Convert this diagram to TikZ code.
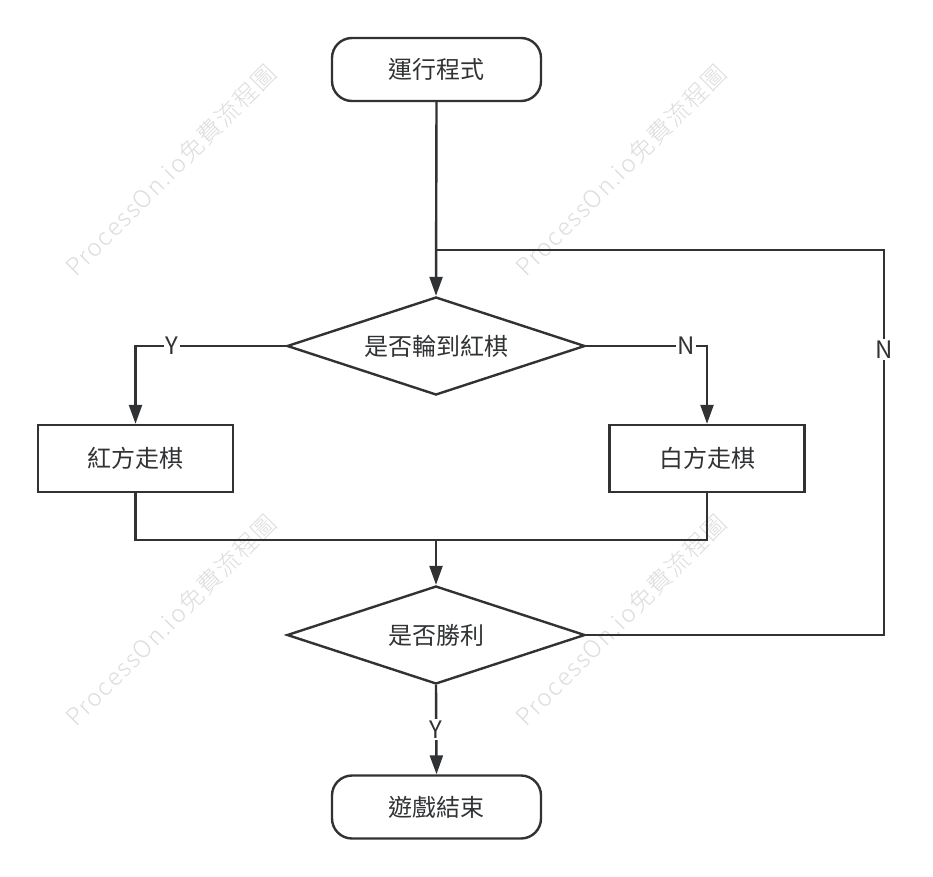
\documentclass[tikz,border=0pt]{standalone}
\usepackage{fontspec}
\setmainfont{Noto Sans CJK TC}
\newfontfamily\wmfont[LetterSpace=6.5]{Noto Sans CJK TC Light}
\usetikzlibrary{shapes.geometric,arrows.meta}
\definecolor{ink}{HTML}{303234}
\definecolor{wm}{HTML}{DDDDDD}
\begin{document}
\begin{tikzpicture}[x=1pt,y=-1pt,
  every node/.style={font=\fontsize{24}{27}\selectfont, text=ink},
  term/.style={draw=ink, line width=2.4pt, rounded corners=20pt, minimum width=209pt, minimum height=63pt, inner sep=0pt},
  proc/.style={draw=ink, line width=2.4pt, minimum width=195pt, minimum height=67pt, inner sep=0pt},
  dec/.style={draw=ink, line width=2.4pt, diamond, shape aspect=3.04, minimum width=298pt, minimum height=98pt, inner sep=0pt},
  conn/.style={draw=ink, line width=2.4pt},
  arr/.style={conn, -{Triangle[length=19pt,width=13pt]}},
  lbl/.style={fill=white, inner sep=1.5pt},
  wmark/.style={text=wm, rotate=45, font=\wmfont\fontsize{24}{27}\selectfont, inner sep=0pt}
]
\useasboundingbox (0,0) rectangle (933,876);
\fill[white] (0,0) rectangle (933,876);
% watermarks
\node[wmark] (w1) at (171,170) {ProcessOn.io免費流程圖};
\node[wmark] (w2) at (621,170) {ProcessOn.io免費流程圖};
\node[wmark] (w3) at (171,620) {ProcessOn.io免費流程圖};
\node[wmark] (w4) at (621,620) {ProcessOn.io免費流程圖};
% nodes
\node[term] (start) at (436.5,69.5) {運行程式};
\node[dec] (d1) at (436,346) {是否輪到紅棋};
\node[proc] (red) at (135.5,458.5) {紅方走棋};
\node[proc] (white) at (707,458.5) {白方走棋};
\node[dec] (d2) at (436,635) {是否勝利};
\node[term] (end) at (436.5,807) {遊戲結束};
\coordinate (m) at (436,540);
\coordinate (lc) at (884,250);
\coordinate (lj) at (436,250);
% connectors
\draw[arr] (start.south) -- (d1.north);
\draw[arr] (d1.west) -| node[lbl, pos=0.378] (ly1) {Y} (red.north);
\draw[arr] (d1.east) -| node[lbl, pos=0.414] (ln1) {N} (white.north);
\draw[conn] (red.south) |- (m);
\draw[conn] (white.south) |- (m);
\draw[arr] (m) -- (d2.north);
\draw[arr] (d2.south) -- node[lbl, pos=0.5] (ly2) {Y} (end.north);
\draw[conn] (d2.east) -| node[lbl, pos=0.871] (ln2) {N} (lc) -- (lj);
\end{tikzpicture}
\end{document}
